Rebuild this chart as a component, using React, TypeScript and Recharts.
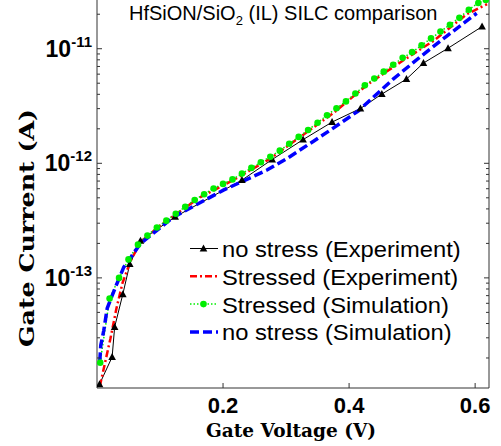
import React from "react";
import { LineChart, Line, XAxis, YAxis, Customized } from "recharts";

// no stress (Experiment)
const V_NOSTRESS_EXP = [0.004, 0.024, 0.028, 0.041, 0.052, 0.069, 0.124, 0.23, 0.278, 0.327, 0.373, 0.418, 0.452, 0.491, 0.518, 0.557, 0.611];
const I_NOSTRESS_EXP = [1.18e-14, 2.04e-14, 3.73e-14, 7.21e-14, 1.32e-13, 2.11e-13, 3.41e-13, 7.14e-13, 1.08e-12, 1.61e-12, 2.29e-12, 3.01e-12, 4.02e-12, 5.43e-12, 7.5e-12, 1.01e-11, 1.56e-11];

// Stressed (Experiment)
const V_STRESS_EXP = [0.0044, 0.0119, 0.0214, 0.0309, 0.0404, 0.0531, 0.0689, 0.1006, 0.164, 0.2163, 0.275, 0.3225, 0.3753, 0.4282, 0.481, 0.5338, 0.5867, 0.6189];
const I_STRESS_EXP = [1.13e-14, 1.73e-14, 2.97e-14, 5.43e-14, 8.99e-14, 1.4e-13, 2.05e-13, 2.88e-13, 5.07e-13, 7.13e-13, 1.1e-12, 1.7e-12, 2.75e-12, 4.82e-12, 7.59e-12, 1.17e-11, 2.0e-11, 2.45e-11];

// Stressed (Simulation)
const V_STRESS_SIM = [0.005, 0.02, 0.035, 0.05, 0.065, 0.08, 0.095, 0.11, 0.125, 0.14, 0.155, 0.17, 0.185, 0.2, 0.215, 0.23, 0.245, 0.26, 0.275, 0.29, 0.305, 0.32, 0.335, 0.35, 0.365, 0.38, 0.395, 0.41, 0.425, 0.44, 0.455, 0.47, 0.485, 0.5, 0.515, 0.53, 0.545, 0.56, 0.575, 0.59, 0.605, 0.617];
const I_STRESS_SIM = [1.82e-14, 6.61e-14, 1.0e-13, 1.45e-13, 1.95e-13, 2.34e-13, 2.75e-13, 3.16e-13, 3.63e-13, 4.17e-13, 4.79e-13, 5.37e-13, 6.03e-13, 6.61e-13, 7.24e-13, 8.13e-13, 9.12e-13, 1.02e-12, 1.14e-12, 1.29e-12, 1.48e-12, 1.7e-12, 1.95e-12, 2.26e-12, 2.63e-12, 3.02e-12, 3.47e-12, 4.07e-12, 4.79e-12, 5.5e-12, 6.31e-12, 7.24e-12, 8.32e-12, 9.33e-12, 1.07e-11, 1.23e-11, 1.41e-11, 1.62e-11, 1.86e-11, 2.19e-11, 2.51e-11, 2.66e-11];

// no stress (Simulation)
const V_NOSTRESS_SIM = [0.0044, 0.006, 0.0108, 0.0162, 0.0293, 0.0425, 0.0689, 0.1212, 0.2005, 0.2697, 0.3014, 0.3436, 0.3727, 0.4144, 0.4699, 0.5127, 0.555, 0.6025];
const I_NOSTRESS_SIM = [1.87e-14, 2.58e-14, 3.49e-14, 5.43e-14, 8.3e-14, 1.24e-13, 1.99e-13, 3.39e-13, 5.83e-13, 8.73e-13, 1.1e-12, 1.56e-12, 1.99e-12, 2.86e-12, 5.43e-12, 8.47e-12, 1.29e-11, 2.04e-11];

const X_TICKS = [0.2, 0.4, 0.6];
const Y_MAJOR = [1e-13, 1e-12, 1e-11];
const Y_DOMAIN = [1.094e-14, 2.662e-11];
const X_DOMAIN = [0, 0.622];

const TITLE = "HfSiON/SiO";
const LEGEND_NAMES = ["no stress (Experiment)", "Stressed (Experiment)", "Stressed (Simulation)", "no stress (Simulation)"];

const AXIS = "#333";
const SANS = "'Liberation Sans', Arial, sans-serif";
const SERIF = "'DejaVu Serif', serif";

const rows = (v: number[], i: number[]) => v.map((x, k) => ({ v: x, i: i[k] }));

// major ticks plus 2..9 minor ticks of every decade inside the domain
const Y_TICKS: number[] = [];
for (let e = -14; e <= -11; e++) {
  for (let m = 1; m <= 9; m++) {
    const t = m * Math.pow(10, e);
    if (t >= Y_DOMAIN[0] && t <= Y_DOMAIN[1]) Y_TICKS.push(t);
  }
}
const isMajor = (t: number) => Y_MAJOR.some((m) => Math.abs(t - m) / m < 1e-6);

const LeftTick = (props: any) => {
  const { x, y, payload } = props;
  const major = isMajor(payload.value);
  const exp = Math.round(Math.log10(payload.value));
  return (
    <g>
      <line x1={x} x2={x + (major ? 5 : 3)} y1={y} y2={y} stroke={AXIS} />
      {major && (
        <text x={x - 5} y={y + 8} textAnchor="end" fontFamily={SANS} fontWeight="bold" fontSize={23} fill="#000">
          10
          <tspan dy={-10} fontSize={15}>{exp}</tspan>
        </text>
      )}
    </g>
  );
};

const RightTick = (props: any) => {
  const { x, y, payload } = props;
  const major = isMajor(payload.value);
  return <line x1={x} x2={x - (major ? 5 : 3)} y1={y} y2={y} stroke={AXIS} />;
};

const BottomTick = (props: any) => {
  const { x, y, payload } = props;
  return (
    <g>
      <line x1={x} x2={x} y1={y} y2={y - 5} stroke={AXIS} />
      <text x={x} y={y + 25} textAnchor="middle" fontFamily={SANS} fontWeight="bold" fontSize={22} fill="#000">
        {payload.value.toFixed(1)}
      </text>
    </g>
  );
};

const Triangle = (props: any) => {
  const { cx, cy, index } = props;
  if (cx == null || cy == null) return <g key={index} />;
  return <polygon key={index} points={`${cx - 3.8},${cy + 3} ${cx + 3.8},${cy + 3} ${cx},${cy - 4}`} fill="#000" />;
};

const STYLES = [
  { color: "#000000", width: 1, dash: undefined as string | undefined, marker: "tri" },
  { color: "#ff0000", width: 2.5, dash: "7 3 2 3", marker: "" },
  { color: "#00ee00", width: 1.5, dash: "1.5 2", marker: "dot" },
  { color: "#0000ff", width: 3.5, dash: "9 4", marker: "" },
];

const Overlay = () => (
  <g>
    <text x={129} y={20} fontFamily={SANS} fontSize={20} fill="#000">
      {TITLE}
      <tspan dy={5} fontSize={13}>2</tspan>
      <tspan dy={-5}> (IL) SILC comparison</tspan>
    </text>
    <text
      x={34}
      y={228}
      transform="rotate(-90 34 228)"
      textAnchor="middle"
      fontFamily={SERIF}
      fontWeight="bold"
      fontSize={20}
      textLength={238}
      lengthAdjust="spacingAndGlyphs"
      fill="#000"
    >
      Gate Current (A)
    </text>
    <text x={291} y={437} textAnchor="middle" fontFamily={SERIF} fontWeight="bold" fontSize={18.5} fill="#000">
      Gate Voltage (V)
    </text>
    {LEGEND_NAMES.map((name, k) => {
      const s = STYLES[k];
      const y = 248.5 + k * 27.8;
      return (
        <g key={name}>
          <line x1={190} x2={218} y1={y} y2={y} stroke={s.color} strokeWidth={s.width} strokeDasharray={s.dash} />
          {s.marker === "tri" && <polygon points={`${203.5 - 3.8},${y + 3} ${203.5 + 3.8},${y + 3} ${203.5},${y - 4}`} fill="#000" />}
          {s.marker === "dot" && <circle cx={203.5} cy={y} r={3.3} fill={s.color} />}
          <text transform={`translate(222 ${y + 8.5}) scale(1.08 1)`} fontFamily={SANS} fontSize={22} fill="#000">
            {name}
          </text>
        </g>
      );
    })}
  </g>
);

export default function App() {
  return (
    <div style={{ position: "absolute", left: 0, top: 0, width: 501, height: 446, background: "#fff" }}>
      <LineChart width={501} height={446} margin={{ top: 0, right: 0, bottom: 0, left: 0 }}>
        <XAxis
          type="number"
          dataKey="v"
          domain={X_DOMAIN}
          allowDataOverflow
          ticks={X_TICKS}
          interval={0}
          tickSize={0}
          tickMargin={0}
          tick={<BottomTick />}
          height={58}
          axisLine={{ stroke: AXIS }}
        />
        <YAxis
          scale="log"
          type="number"
          domain={Y_DOMAIN}
          allowDataOverflow
          ticks={Y_TICKS}
          interval={0}
          tickSize={0}
          tickMargin={0}
          tick={<LeftTick />}
          width={97}
          axisLine={{ stroke: AXIS }}
        />
        <YAxis
          yAxisId="r"
          orientation="right"
          scale="log"
          type="number"
          domain={Y_DOMAIN}
          allowDataOverflow
          ticks={Y_TICKS}
          interval={0}
          tickSize={0}
          tickMargin={0}
          tick={<RightTick />}
          width={12}
          axisLine={{ stroke: AXIS }}
        />
        <Line
          data={rows(V_NOSTRESS_EXP, I_NOSTRESS_EXP)}
          dataKey="i"
          stroke={STYLES[0].color}
          strokeWidth={STYLES[0].width}
          dot={<Triangle />}
          isAnimationActive={false}
        />
        <Line
          data={rows(V_STRESS_EXP, I_STRESS_EXP)}
          dataKey="i"
          stroke={STYLES[1].color}
          strokeWidth={STYLES[1].width}
          strokeDasharray={STYLES[1].dash}
          dot={false}
          isAnimationActive={false}
        />
        <Line
          data={rows(V_STRESS_SIM, I_STRESS_SIM)}
          dataKey="i"
          stroke={STYLES[2].color}
          strokeWidth={STYLES[2].width}
          strokeDasharray={STYLES[2].dash}
          dot={{ r: 3.3, fill: STYLES[2].color, stroke: "none" }}
          isAnimationActive={false}
        />
        <Line
          data={rows(V_NOSTRESS_SIM, I_NOSTRESS_SIM)}
          dataKey="i"
          stroke={STYLES[3].color}
          strokeWidth={STYLES[3].width}
          strokeDasharray={STYLES[3].dash}
          dot={false}
          isAnimationActive={false}
        />
        <Customized component={Overlay} />
      </LineChart>
    </div>
  );
}
